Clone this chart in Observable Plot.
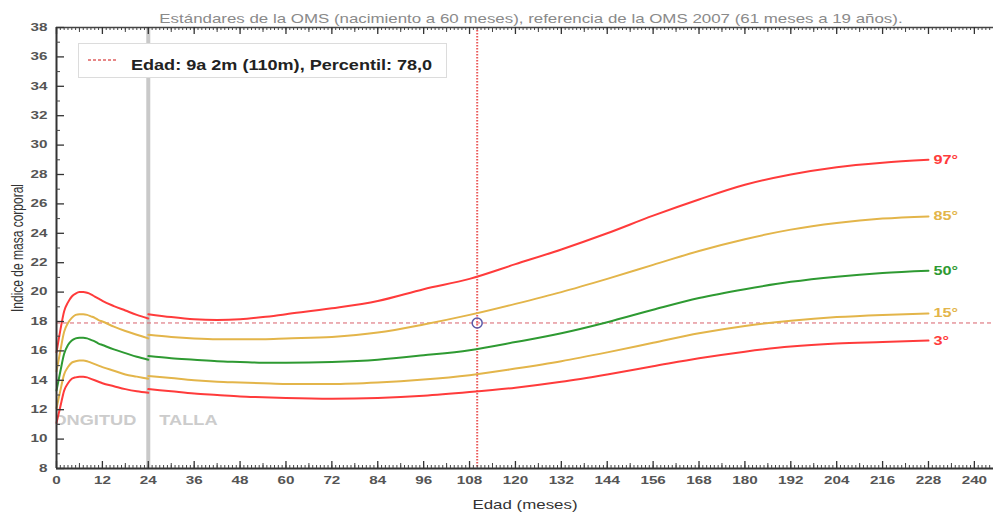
<!DOCTYPE html>
<html>
<head>
<meta charset="utf-8">
<script src="https://cdn.jsdelivr.net/npm/d3@7"></script>
<script src="https://cdn.jsdelivr.net/npm/@observablehq/plot@0.6"></script>
<style>
  body { margin: 0; background: #fff; font-family: "Liberation Sans", Arial, sans-serif; }
  #wrap { position: relative; width: 993px; height: 512px; overflow: hidden; }
  #legend {
    position: absolute; left: 78px; top: 43px; width: 369px; height: 35px;
    border: 1px solid #dcdcdc; background: #fff; box-sizing: border-box;
  }
  #legend svg { position: absolute; left: 9px; top: 14px; }
  #legend span {
    position: absolute; left: 52px; top: 14px; white-space: nowrap;
    font-weight: bold; font-size: 14px; color: #222; line-height: 14px;
    transform: scaleX(1.29); transform-origin: 0 50%;
  }
</style>
</head>
<body>
<div id="wrap"></div>
<script>
// Ages in months: length-based segment (birth to 24 m)
const ageLength = [0, 1, 2, 3, 4, 5, 6, 7, 8, 9, 10, 11, 12, 15, 18, 21, 24];
const p3Length  = [11.1, 12.2, 13.3, 13.8, 14.1, 14.2, 14.25, 14.25, 14.2, 14.1, 14.0, 13.9, 13.8, 13.6, 13.4, 13.25, 13.15];
const p15Length = [12.1, 13.3, 14.4, 14.9, 15.2, 15.3, 15.35, 15.35, 15.3, 15.2, 15.1, 15.0, 14.9, 14.65, 14.4, 14.25, 14.1];
const p50Length = [13.3, 14.6, 15.8, 16.4, 16.7, 16.85, 16.9, 16.9, 16.85, 16.75, 16.65, 16.5, 16.4, 16.1, 15.85, 15.6, 15.4];
const p85Length = [14.6, 16.0, 17.3, 17.9, 18.25, 18.45, 18.5, 18.5, 18.45, 18.35, 18.25, 18.1, 18.0, 17.65, 17.35, 17.1, 16.85];
const p97Length = [15.9, 17.4, 18.7, 19.3, 19.7, 19.9, 20.0, 20.0, 19.95, 19.85, 19.7, 19.55, 19.4, 19.05, 18.75, 18.45, 18.2];

// Ages in months: height-based segment (24 m to 19 years)
const ageHeight = [24, 30, 36, 42, 48, 54, 60, 72, 84, 96, 108, 120, 132, 144, 156, 168, 180, 192, 204, 216, 228];
const p3Height  = [13.4, 13.25, 13.1, 13.0, 12.9, 12.85, 12.8, 12.75, 12.8, 12.95, 13.2, 13.5, 13.9, 14.4, 14.95, 15.5, 15.95, 16.3, 16.5, 16.6, 16.7];
const p15Height = [14.3, 14.15, 14.0, 13.9, 13.85, 13.8, 13.75, 13.75, 13.85, 14.05, 14.35, 14.8, 15.3, 15.9, 16.55, 17.2, 17.7, 18.05, 18.3, 18.45, 18.55];
const p50Height = [15.65, 15.5, 15.4, 15.3, 15.25, 15.2, 15.2, 15.25, 15.4, 15.7, 16.05, 16.6, 17.2, 17.95, 18.8, 19.6, 20.2, 20.7, 21.05, 21.3, 21.45];
const p85Height = [17.1, 16.95, 16.85, 16.8, 16.8, 16.8, 16.85, 16.95, 17.25, 17.8, 18.45, 19.2, 20.0, 20.9, 21.85, 22.8, 23.6, 24.25, 24.7, 25.0, 25.15];
const p97Height = [18.5, 18.3, 18.15, 18.1, 18.15, 18.3, 18.5, 18.9, 19.4, 20.2, 20.9, 21.9, 22.9, 24.0, 25.2, 26.3, 27.3, 28.0, 28.5, 28.8, 29.0];

const percentiles = ["3°", "15°", "50°", "85°", "97°"];
const percentileColors = ["#ff3b3b", "#e3b54a", "#2e9a32", "#e3b54a", "#ff3b3b"];

// Patient point
const patientAge = 110;
const patientBmi = 17.9;
const legendText = "Edad: 9a 2m (110m), Percentil: 78,0";

const titleText = "Estándares de la OMS (nacimiento a 60 meses), referencia de la OMS 2007 (61 meses a 19 años).";
const xLabel = "Edad (meses)";
const yLabel = "Indice de masa corporal";
const xTicks = d3.range(0, 241, 12);
const yTicks = d3.range(8, 39, 2);

// Long-format rows for the curves
const lengthSeries = [p3Length, p15Length, p50Length, p85Length, p97Length];
const heightSeries = [p3Height, p15Height, p50Height, p85Height, p97Height];
const rows = [];
percentiles.forEach((p, k) => {
  ageLength.forEach((a, i) => rows.push({age: a, bmi: lengthSeries[k][i], pct: p, seg: p + "L"}));
  ageHeight.forEach((a, i) => rows.push({age: a, bmi: heightSeries[k][i], pct: p, seg: p + "H"}));
});
const endLabels = percentiles.map((p, k) => ({
  age: ageHeight[ageHeight.length - 1], bmi: heightSeries[k][heightSeries[k].length - 1], pct: p
}));

const W = 993, H = 512;
const mL = 56, mR = 0, mT = 27, mB = 44;
const fw = W - mL - mR, fh = H - mT - mB;

const chart = Plot.plot({
  width: W, height: H,
  marginLeft: mL, marginRight: mR, marginTop: mT, marginBottom: mB,
  style: {fontFamily: "'Liberation Sans', Arial, sans-serif", background: "#fff", overflow: "visible"},
  x: {domain: [0, 245]},
  y: {domain: [8, 38]},
  color: {domain: percentiles, range: percentileColors},
  marks: [
    // Length / height divider
    Plot.ruleX([24], {stroke: "#c9c9c9", strokeWidth: 4}),
    Plot.text(["LONGITUD"], {x: 24, y: 11.27, text: d => d, textAnchor: "end", dx: -12, fill: "#cccccc", fontWeight: "bold", fontSize: 14, clip: true}),
    Plot.text(["TALLA"], {x: 24, y: 11.27, text: d => d, textAnchor: "start", dx: 11, fill: "#cccccc", fontWeight: "bold", fontSize: 14}),

    // Patient cross-hair
    Plot.ruleY([patientBmi], {stroke: "#d8606a", strokeWidth: 1, strokeDasharray: "4,3"}),
    Plot.ruleX([patientAge], {stroke: "#ea5a5a", strokeWidth: 2, strokeDasharray: "1.5,1.5"}),

    // Percentile curves
    Plot.line(rows, {x: "age", y: "bmi", z: "seg", stroke: "pct", strokeWidth: 2, curve: "monotone-x"}),
    Plot.text(endLabels, {x: "age", y: "bmi", text: "pct", fill: "pct", textAnchor: "start", dx: 5, fontWeight: "bold", fontSize: 12.5}),

    Plot.dot([{age: patientAge, bmi: patientBmi}], {x: "age", y: "bmi", r: 5, stroke: "#5a5aa8", strokeWidth: 1.5, fill: "none"}),

    // Axis frame lines
    Plot.ruleX([0], {stroke: "#333", strokeWidth: 2}),
    Plot.ruleY([8], {stroke: "#333", strokeWidth: 2}),
    Plot.ruleY([38], {stroke: "#444", strokeWidth: 1.5}),

    // Inward ticks: bottom and top
    Plot.tickX(d3.range(0, 246, 1), {x: d => d, insetTop: fh - 3, stroke: "#444"}),
    Plot.tickX(d3.range(6, 246, 12), {x: d => d, insetTop: fh - 5, stroke: "#444"}),
    Plot.tickX(xTicks, {x: d => d, insetTop: fh - 7, stroke: "#333", strokeWidth: 1.3}),
    Plot.tickX(d3.range(0, 246, 1), {x: d => d, insetBottom: fh - 3, stroke: "#444"}),
    Plot.tickX(d3.range(6, 246, 12), {x: d => d, insetBottom: fh - 5, stroke: "#444"}),
    Plot.tickX(xTicks, {x: d => d, insetBottom: fh - 7, stroke: "#333", strokeWidth: 1.3}),
    // Inward ticks: left
    Plot.tickY(d3.range(9, 38, 2), {y: d => d, insetRight: fw - 4, stroke: "#444"}),
    Plot.tickY(yTicks, {y: d => d, insetRight: fw - 8, stroke: "#333", strokeWidth: 1.3}),

    Plot.axisX({ticks: xTicks, tickSize: 0, tickPadding: 8, label: null, fontWeight: "bold", fontSize: 10.5, color: "#555"}),
    Plot.axisY({ticks: yTicks, tickSize: 0, tickPadding: 9, label: null, fontWeight: "bold", fontSize: 10.5, color: "#555"}),

    // Title and axis titles
    Plot.text([titleText], {frameAnchor: "top", lineAnchor: "bottom", text: d => d, dy: -5, dx: 6, fontSize: 13, fill: "#8a8a8a"}),
    Plot.text([xLabel], {frameAnchor: "bottom", text: d => d, dy: 40, fontSize: 13, fill: "#333"}),
    Plot.text([yLabel], {frameAnchor: "left", textAnchor: "middle", text: d => d, dx: -39, rotate: -90, fontSize: 12, fill: "#333"})
  ]
});

// Widen the lettering horizontally around each text anchor
function widen(nodes, s) {
  nodes.forEach(t => {
    const tr = t.getAttribute("transform") || "";
    t.setAttribute("transform", tr + (tr.includes("rotate") ? ` scale(1,${s})` : ` scale(${s},1)`));
  });
}
const tickLabels = chart.querySelectorAll('g[aria-label="x-axis tick label"] text, g[aria-label="y-axis tick label"] text');
const tickSet = new Set(tickLabels);
widen(tickLabels, 1.45);
widen([...chart.querySelectorAll("text")].filter(t => !tickSet.has(t)), 1.3);

const wrap = document.getElementById("wrap");
wrap.appendChild(chart);

// Legend box
const legend = document.createElement("div");
legend.id = "legend";
legend.innerHTML = '<svg width="32" height="4"><line x1="0" y1="2" x2="30" y2="2" stroke="#e06060" stroke-width="1.5" stroke-dasharray="3,2"/></svg><span></span>';
legend.querySelector("span").textContent = legendText;
wrap.appendChild(legend);
</script>
</body>
</html>
